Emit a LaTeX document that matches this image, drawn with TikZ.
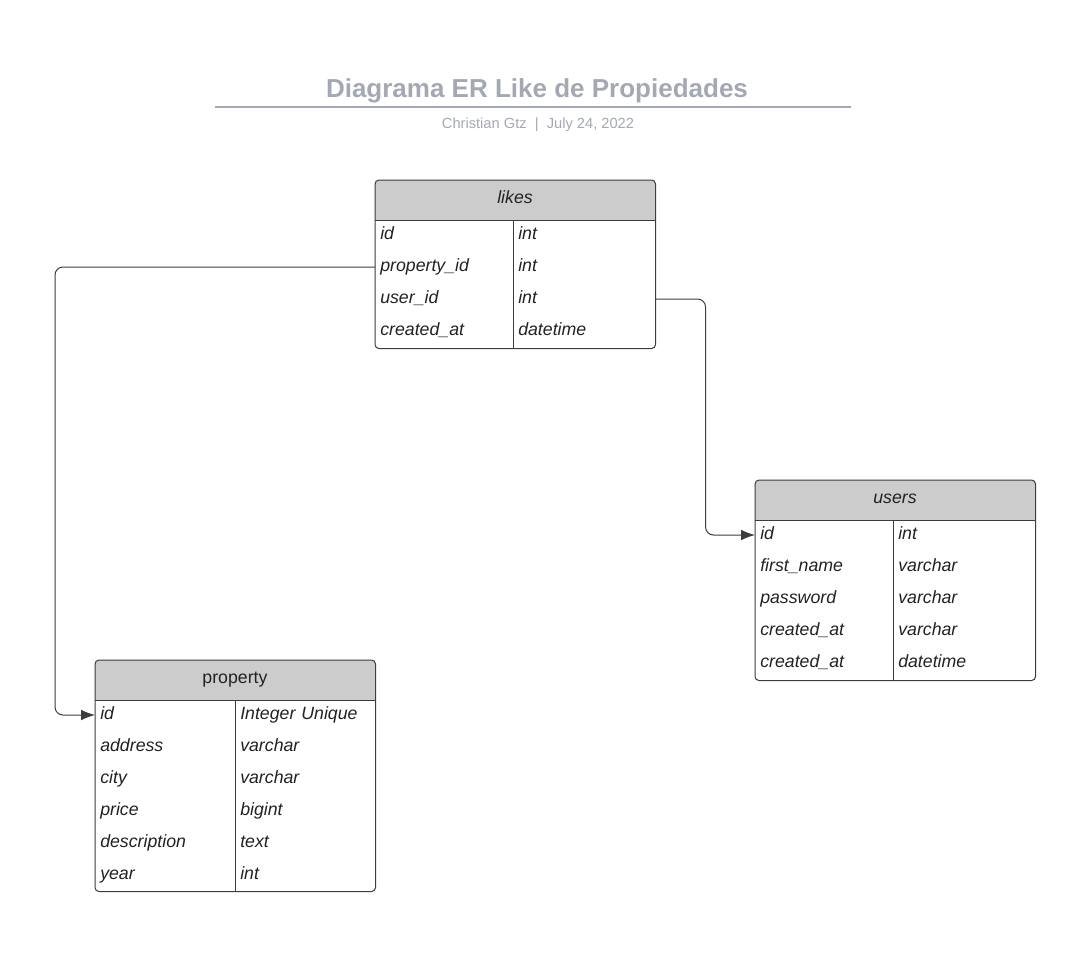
\documentclass[tikz,border=0pt]{standalone}
\usepackage{fontspec}
\setmainfont{Liberation Sans}
\usetikzlibrary{arrows.meta,positioning}
\definecolor{titlegray}{RGB}{163,168,180}
\definecolor{hdrgray}{RGB}{204,204,204}
\definecolor{linegray}{RGB}{60,60,60}
\definecolor{textgray}{RGB}{34,34,34}

\begin{document}
\begin{tikzpicture}[x=0.75pt,y=-0.75pt]
\tikzstyle{tablebox} = [
	draw=linegray, line width=0.75pt, rounded corners=3pt
];
\tikzstyle{rule} = [draw=linegray, line width=0.75pt];
\tikzstyle{field} = [
	anchor=west, inner xsep=3.75pt, inner ysep=0pt,
	text width=96pt, align=left,
	text height=9.5pt, text depth=3pt,
	font=\fontsize{13.3}{16}\selectfont\itshape, text=textgray
];
\tikzstyle{fieldtype} = [field, text width=99pt];
\tikzstyle{hdrtext} = [font=\fontsize{13.3}{16}\selectfont, text=textgray, text height=9.5pt, text depth=3pt];
\tikzstyle{conn} = [
	-{Latex[length=10.5pt,width=8pt]}, line width=0.75pt,
	color=linegray, rounded corners=6pt
];

\useasboundingbox (0,0) rectangle (1089,975);

%title
\node[font=\bfseries\fontsize{19.5}{23}\selectfont, text=titlegray] (title) at (537,91) {Diagrama ER Like de Propiedades};
\draw[titlegray, line width=1.5pt] (215,107) -- (851,107);
\node[font=\fontsize{11}{13}\selectfont, text=titlegray] (subtitle) at (538,125) {Christian Gtz~~|~~July 24, 2022};

%likes table
\node[inner sep=0pt, minimum width=210pt, minimum height=126pt, anchor=north west] (likes) at (375,180) {};
\begin{scope}
	\clip[rounded corners=3pt] (likes.north west) rectangle (likes.south east);
	\fill[hdrgray] (likes.north west) rectangle (655,220);
\end{scope}
\draw[tablebox] (likes.north west) rectangle (likes.south east);
\draw[rule] (375,220) -- (655,220);
\draw[rule] (513,220) -- (513,348);
\node[hdrtext] (likes-title) at (515,199) {\itshape likes};
\foreach \f/\t [count=\i] in {id/int, property\_id/int, user\_id/int, created\_at/datetime} {
	\node[field] (likes-f\i) at (375,{235+32*(\i-1)}) {\f};
	\node[fieldtype] (likes-t\i) at (513,{235+32*(\i-1)}) {\t};
}

%users table
\node[inner sep=0pt, minimum width=210pt, minimum height=150pt, anchor=north west] (users) at (755,480) {};
\begin{scope}
	\clip[rounded corners=3pt] (users.north west) rectangle (users.south east);
	\fill[hdrgray] (users.north west) rectangle (1035,520);
\end{scope}
\draw[tablebox] (users.north west) rectangle (users.south east);
\draw[rule] (755,520) -- (1035,520);
\draw[rule] (893,520) -- (893,680);
\node[hdrtext] (users-title) at (895,499) {\itshape users};
\foreach \f/\t [count=\i] in {id/int, first\_name/varchar, password/varchar, created\_at/varchar, created\_at/datetime} {
	\node[field] (users-f\i) at (755,{535+32*(\i-1)}) {\f};
	\node[fieldtype] (users-t\i) at (893,{535+32*(\i-1)}) {\t};
}

%property table
\node[inner sep=0pt, minimum width=210pt, minimum height=173.25pt, anchor=north west] (property) at (95,660) {};
\begin{scope}
	\clip[rounded corners=3pt] (property.north west) rectangle (property.south east);
	\fill[hdrgray] (property.north west) rectangle (375,700);
\end{scope}
\draw[tablebox] (property.north west) rectangle (property.south east);
\draw[rule] (95,700) -- (375,700);
\draw[rule] (235,700) -- (235,891);
\node[hdrtext] (property-title) at (235,679) {property};
\foreach \f/\t [count=\i] in {id/Integer Unique, address/varchar, city/varchar, price/bigint, description/text, year/int} {
	\node[field] (property-f\i) at (95,{715+32*(\i-1)}) {\f};
	\node[fieldtype] (property-t\i) at (235,{715+32*(\i-1)}) {\t};
}

%relations
\draw[conn] (likes-f2.west) -- ++(-320,0) |- (property-f1.west);
\draw[conn] (likes-t3.east) -- ++(50,0) |- (users-f1.west);

\end{tikzpicture}
\end{document}
